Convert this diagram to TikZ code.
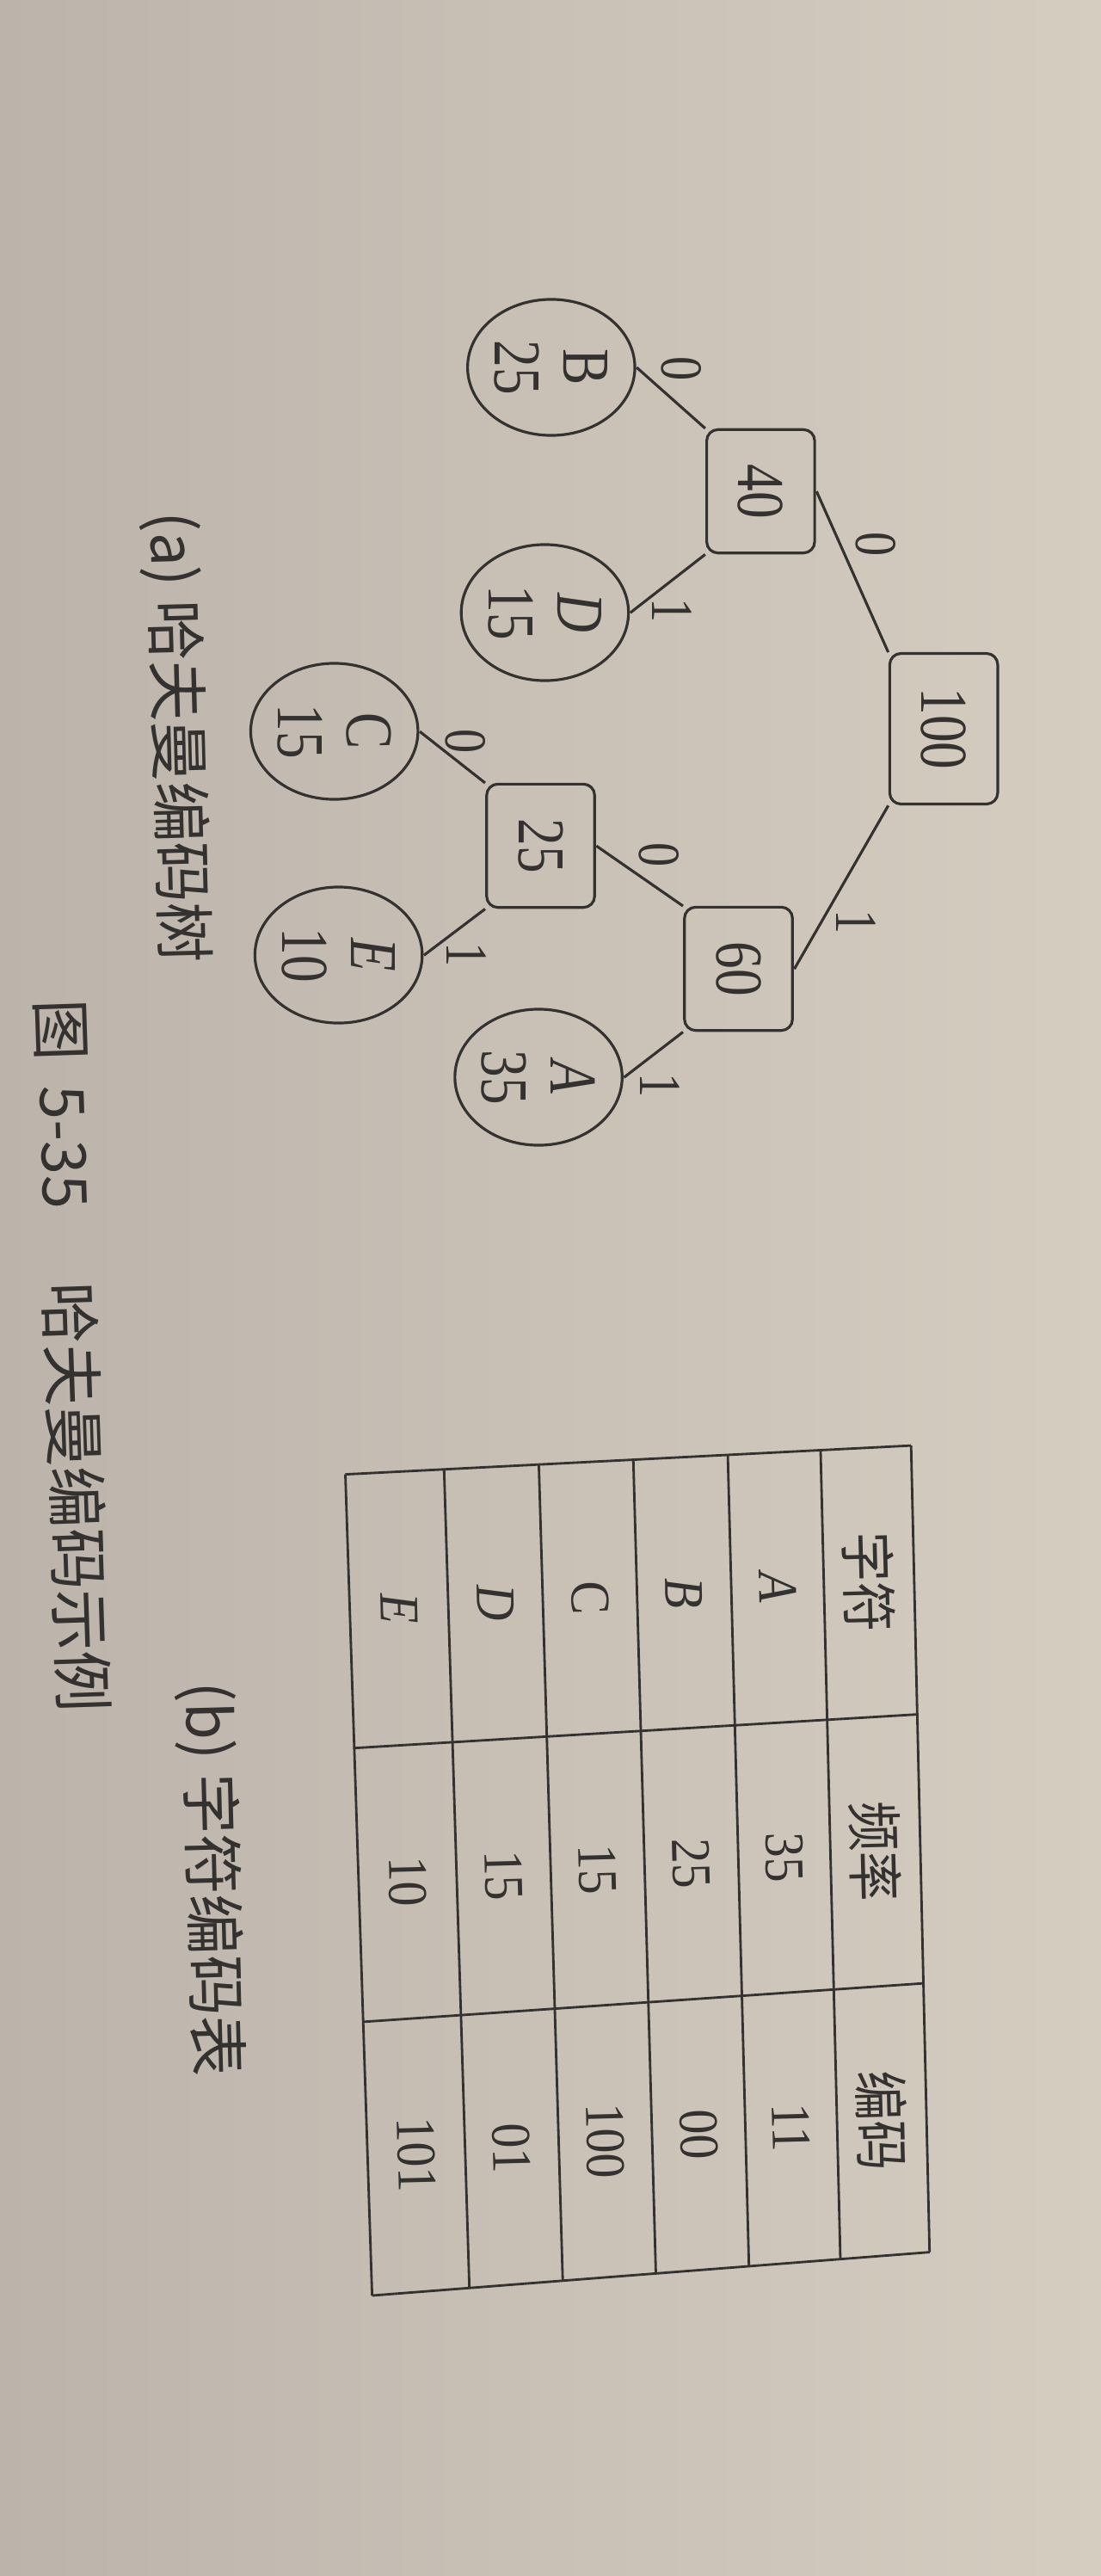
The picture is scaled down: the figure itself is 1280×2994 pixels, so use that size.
\documentclass[tikz,border=0pt]{standalone}
\usepackage{fontspec}
\setmainfont{Liberation Serif}
\newfontfamily\cjk{Noto Sans CJK SC}
\usetikzlibrary{calc}
\definecolor{paperL}{RGB}{188,180,171}
\definecolor{paperR}{RGB}{214,205,193}
\definecolor{ink}{RGB}{52,50,48}
\tikzset{
  edge/.style={draw=ink, line width=0.9pt},
  wbox/.style={
    draw=ink, line width=0.9pt, rectangle, rounded corners=0.13cm,
    minimum height=1.02cm, inner xsep=0.4cm, inner ysep=0pt,
    text=ink, font=\fontsize{18}{18.4}\selectfont
  },
  leaf/.style={
    draw=ink, line width=0.9pt, circle, minimum size=1.58cm,
    inner sep=0pt, align=center, text=ink,
    font=\fontsize{18}{18.4}\selectfont
  },
  bit/.style={inner sep=0pt, text=ink, font=\fontsize{16}{16}\selectfont},
  tabline/.style={draw=ink, line width=0.8pt},
  tabcell/.style={inner sep=0pt, rotate=-88.5, yscale=1.12, text=ink, font=\fontsize{16.5}{16.5}\selectfont},
  capt/.style={inner sep=0pt, text=ink, font=\cjk\fontsize{20}{20}\selectfont}
}

\begin{document}
\begin{tikzpicture}[x=0.01cm, y=-0.01cm]
  \useasboundingbox (0,0) rectangle (1280,2994);
  \fill[left color=paperL, right color=paperR] (0,0) rectangle (1280,2994);

  % --- (a) tree: drawn upright, then turned onto the page ---
  % u runs along the page (down), v runs across it (right)
  \begin{scope}[x=0.01cm, y=0.01cm, cm={0,-1,1.23,0,(0,0)}, transform shape]
    % weights
    \node[wbox] (n100) at (847,892) {100};
    \node[wbox] (n40)  at (571,719) {40};
    \node[wbox] (n60)  at (1126,698) {60};
    \node[wbox] (n25)  at (983,511) {25};

    % leaves
    \node[leaf] (lB) at (427,521)  {B\\25};
    \node[leaf] (lD) at (712,515)  {\textit{D}\\15};
    \node[leaf] (lA) at (1252,509) {\textit{A}\\35};
    \node[leaf] (lC) at (850,316)  {C\\15};
    \node[leaf] (lE) at (1110,320) {\textit{E}\\10};

    % branches
    \draw[edge] (n100.south west) -- (n40.north);
    \draw[edge] (n100.south east) -- (n60.north);
    \draw[edge] (n40.south west) -- (lB.north);
    \draw[edge] (n40.south east) -- (lD.north);
    \draw[edge] (n60.south west) -- (n25.north);
    \draw[edge] (n60.south east) -- (lA.north);
    \draw[edge] (n25.south west) -- (lC.north);
    \draw[edge] (n25.south east) -- (lE.north);

    % branch bits
    \node[bit] (b100l) at (633,828)  {0};
    \node[bit] (b100r) at (1072,809) {1};
    \node[bit] (b40l)  at (429,644)  {0};
    \node[bit] (b40r)  at (710,635)  {1};
    \node[bit] (b60l)  at (994,623)  {0};
    \node[bit] (b60r)  at (1262,624) {1};
    \node[bit] (b25l)  at (862,440)  {0};
    \node[bit] (b25r)  at (1110,441) {1};
  \end{scope}

  % --- (b) table, corners as photographed ---
  \coordinate (tl) at (401.5,1713.6);
  \coordinate (tr) at (1059.2,1680.1);
  \coordinate (bl) at (432.6,2668);
  \coordinate (br) at (1080.7,2617.6);
  \foreach \f in {0,0.1745,0.342,0.509,0.676,0.84,1}
    \draw[tabline] ($(tl)!\f!(tr)$) -- ($(bl)!\f!(br)$);
  \foreach \g in {0,0.3333,0.6667,1}
    \draw[tabline] ($(tl)!\g!(bl)$) -- ($(tr)!\g!(br)$);
  \foreach \f/\r/\ch/\fq/\cd in {
      0.92/h/{\cjk 字符}/{\cjk 频率}/{\cjk 编码},
      0.758/a/\textit{A}/35/11,
      0.5925/b/\textit{B}/25/00,
      0.4255/c/C/15/100,
      0.258/d/\textit{D}/15/01,
      0.0873/e/\textit{E}/10/101}{
    \coordinate (top-\r) at ($(tl)!\f!(tr)$);
    \coordinate (bot-\r) at ($(bl)!\f!(br)$);
    \node[tabcell] (ch-\r) at ($(top-\r)!0.1667!(bot-\r)$) {\ch};
    \node[tabcell] (fq-\r) at ($(top-\r)!0.5!(bot-\r)$)    {\fq};
    \node[tabcell] (cd-\r) at ($(top-\r)!0.8333!(bot-\r)$) {\cd};
  }

  % --- captions ---
  \node[capt, rotate=-88.5] (capa) at (205,857)  {(a) 哈夫曼编码树};
  \node[capt, rotate=-88.5] (capb) at (245,2184) {(b) 字符编码表};
  \node[capt, rotate=-88.1, font=\cjk\fontsize{20.3}{20.3}\selectfont] (capfig) at (84,1576)
    {图\hspace{0.4em}5-35\hspace{1.2em}哈夫曼编码示例};
\end{tikzpicture}
\end{document}
